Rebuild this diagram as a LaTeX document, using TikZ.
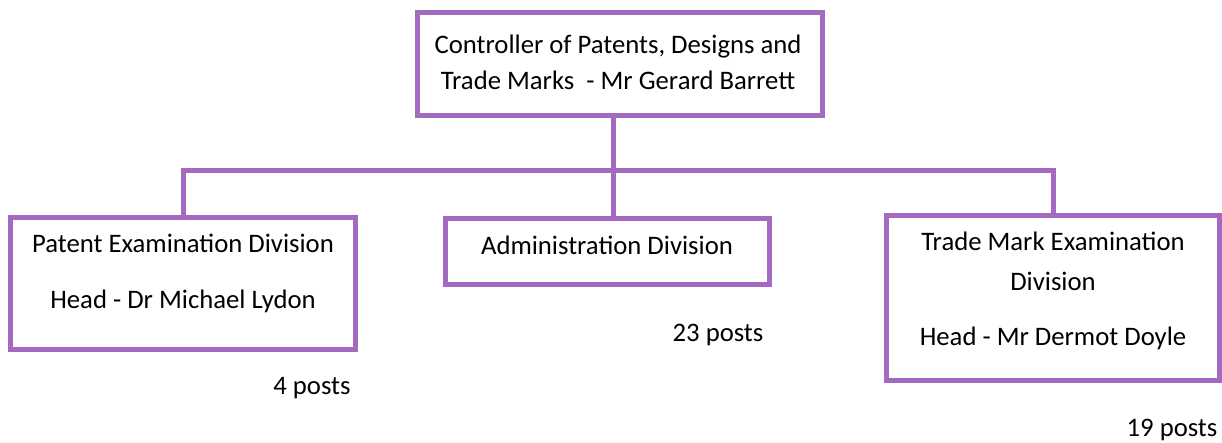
\documentclass[tikz,border=0pt]{standalone}
\usepackage{fontspec}
\setmainfont{Carlito}
\definecolor{orgline}{RGB}{164,106,194}
\tikzset{
  unitbox/.style={draw=orgline, line width=5pt, fill=white, inner sep=0pt},
  unittext/.style={align=center, inner sep=0pt, font=\fontsize{26.7}{36}\selectfont},
  link/.style={draw=orgline, line width=5pt},
}
\begin{document}
\begin{tikzpicture}[x=1pt, y=-1pt]
	\useasboundingbox (0,0) rectangle (1222,442);
	\node[unitbox, minimum width=405pt, minimum height=103pt] (ctrl) at (620,64) {};
	\node[unitbox, minimum width=345pt, minimum height=132pt] (pat) at (183,283.5) {};
	\node[unitbox, minimum width=324pt, minimum height=66pt] (admin) at (607,251.5) {};
	\node[unitbox, minimum width=333pt, minimum height=165pt] (tm) at (1053,298) {};
	\coordinate (hub) at (613,170);
	\draw[link] (ctrl.south -| hub) -- (admin.north -| hub);
	\draw[link] (pat.north) |- (hub) -| (tm.north);
	\node[unittext] (ctrltxt) at (618,62) {Controller of Patents, Designs and\\Trade Marks\ \ - Mr Gerard Barrett};
	\node[unittext] (pattxt) at (183,273) {Patent Examination Division\\[20pt]Head - Dr Michael Lydon};
	\node[unittext] (admintxt) at (607,245) {Administration Division};
	\node[unittext] (tmtxt) at (1053,290.5) {Trade Mark Examination\\[4pt]Division\\[19pt]Head - Mr Dermot Doyle};
	\node[unittext] (patposts) at (312,388) {4 posts};
	\node[unittext] (adminposts) at (718,335) {23 posts};
	\node[unittext] (tmposts) at (1172,430) {19 posts};
\end{tikzpicture}
\end{document}
